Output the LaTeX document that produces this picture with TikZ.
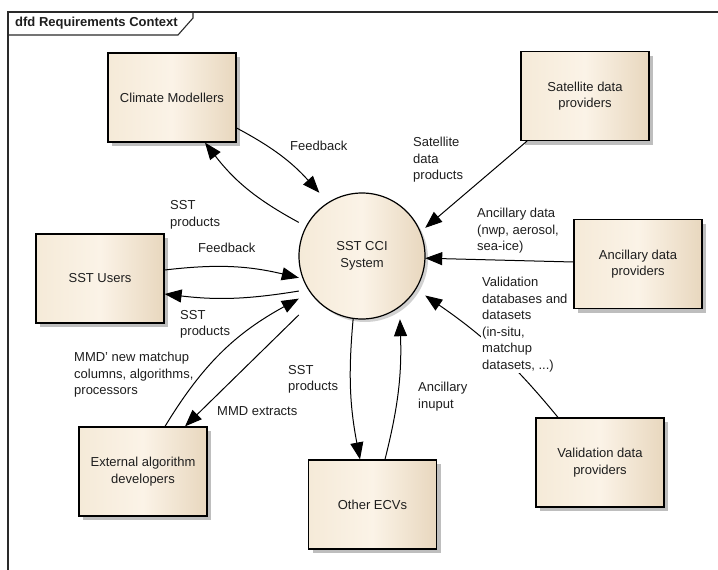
\documentclass[tikz,border=0pt]{standalone}
\usepackage{fontspec}
\setmainfont{Liberation Sans}
\usetikzlibrary{arrows.meta,calc,shadows}
\definecolor{ink}{HTML}{1E1E1E}
\definecolor{boxl}{HTML}{F5EAD8}
\definecolor{boxm}{HTML}{FBF3E7}
\definecolor{boxr}{HTML}{E8D7BE}
\definecolor{shade}{HTML}{BEBEBE}
\definecolor{framec}{HTML}{2A2A2A}
\newcommand{\lblfont}{\fontsize{13}{16.5}\selectfont}
\begin{document}
\begin{tikzpicture}[x=1pt,y=1pt,
  ent/.style={draw=black, line width=1.2pt, rectangle, minimum width=128pt, minimum height=89pt,
    align=center, inner sep=0pt, left color=boxl, right color=boxr, middle color=boxm,
    font=\lblfont, text=ink,
    drop shadow={shadow xshift=4pt, shadow yshift=-4pt, fill=shade, opacity=1}},
  sysc/.style={draw=black, line width=1.2pt, circle, minimum size=126pt, inner sep=0pt,
    align=center, left color=boxl, right color=boxr, middle color=boxm,
    font=\lblfont, text=ink,
    drop shadow={shadow xshift=3pt, shadow yshift=-3pt, fill=shade, opacity=0.7}},
  hull/.style={rectangle, minimum size=126pt, inner sep=0pt, draw=none},
  flow/.style={draw=black, line width=1pt, -{Triangle[length=17pt,width=13pt]}},
  lab/.style={font=\lblfont, align=left, anchor=west, inner sep=0pt, text=ink},
  frameline/.style={draw=framec, line width=1.1pt}
]
\useasboundingbox (0,0) rectangle (718,-570);
\fill[white] (0,0) rectangle (718,-570);

% frame
\draw[frameline] (8,-570) -- (8,-12) -- (718,-12);
\draw[frameline] (8,-35) -- (178,-35) -- (193,-18) -- (193,-12);
\node[font=\bfseries\fontsize{13}{15}\selectfont, anchor=west, inner sep=0pt, text=ink] (title) at (15,-23.5) {dfd Requirements Context};

% entities
\node[ent] (cm) at (172,-97.5) {Climate Modellers};
\node[ent] (sp) at (585,-96) {Satellite data\\providers};
\node[ent] (ap) at (638,-264) {Ancillary data\\providers};
\node[ent] (su) at (100,-278.5) {SST Users};
\node[ent] (ex) at (143,-471.5) {External algorithm\\developers};
\node[ent] (oe) at (372.5,-504.5) {Other ECVs};
\node[ent] (vp) at (600,-462.5) {Validation data\\providers};
\node[sysc] (sys) at (362,-256) {SST CCI\\System};
\node[hull] (sysb) at (362,-256) {};

% connectors
\draw[flow] ($(cm.east)+(0,-30.5)$) to[bend left=10] (sysb.124.5);
\draw[flow] (sysb.152) to[bend left=12] ($(cm.south)+(33,0)$);
\draw[flow] ($(su.east)+(0,8.5)$) to[bend left=10] (sysb.199);
\draw[flow] (sysb.209.4) to[bend left=8] ($(su.east)+(0,-15.5)$);
\draw[flow] ($(ex.north)+(22,0)$) to[bend left=15] (sysb.214.5);
\draw[flow] (sysb.223) -- ($(ex.north)+(42,0)$);
\draw[flow] (sysb.262) to[bend right=8] ($(oe.north)+(-12.5,0)$);
\draw[flow] ($(oe.north)+(12.5,0)$) to[bend right=8] (sysb.301);
\draw[flow] ($(sp.south)+(-58,0)$) -- (sysb.24.7);
\draw[flow] ($(ap.west)+(0,2)$) -- (sysb.358);
\draw[flow] ($(vp.north)+(-42,0)$) to[bend right=8] (sysb.328);

% labels
\node[lab] (l1) at (290,-146) {Feedback};
\node[lab] (l2) at (170,-215) {SST\\products};
\node[lab] (l3) at (198,-247.5) {Feedback};
\node[lab] (l4) at (180,-324.5) {SST\\products};
\node[lab] (l5) at (74,-375) {MMD' new matchup\\columns, algorithms,\\processors};
\node[lab] (l6) at (217,-411) {MMD extracts};
\node[lab] (l7) at (288,-379.5) {SST\\products};
\node[lab] (l8) at (418,-396.5) {Ancillary\\inuput};
\node[lab] (l9) at (413,-160) {Satellite\\data\\products};
\node[lab] (l10) at (477,-231) {Ancillary data\\(nwp, aerosol,\\sea-ice)};
\node[lab, fill=white, inner sep=1pt] (l11) at (481,-324.5) {Validation\\databases and\\datasets\\(in-situ,\\matchup\\datasets, ...)};
\end{tikzpicture}
\end{document}
